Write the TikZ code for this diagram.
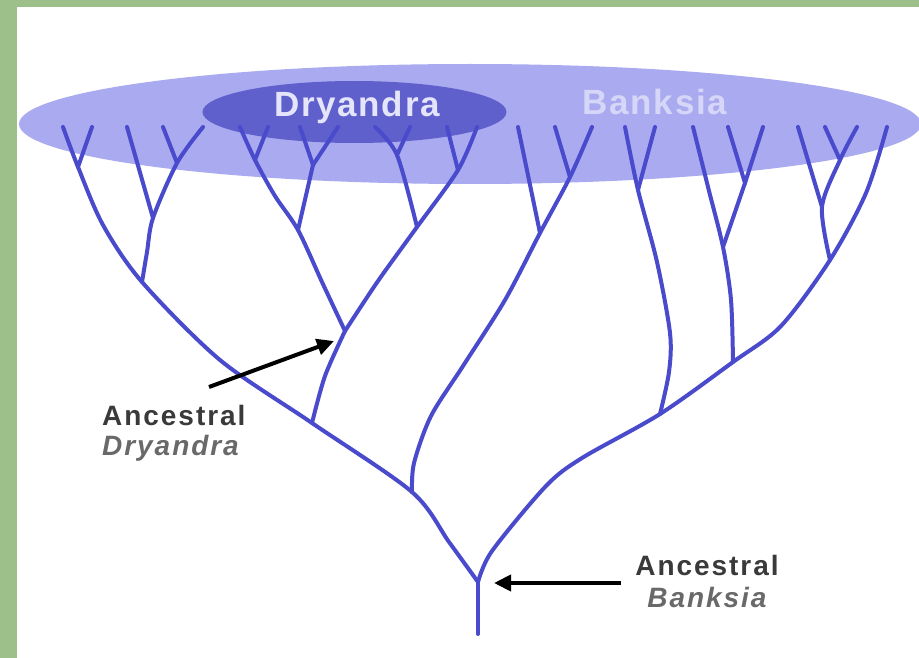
\documentclass[tikz,border=0pt]{standalone}
\usepackage{fontspec}
\setmainfont{Liberation Sans}
\newfontfamily\ttlfont{Liberation Sans}[LetterSpace=5]
\newfontfamily\lblfont{Liberation Sans}[LetterSpace=7]
\usetikzlibrary{arrows.meta}
\definecolor{bordergreen}{RGB}{157,192,138}
\definecolor{lightell}{RGB}{170,170,240}
\definecolor{darkell}{RGB}{96,96,204}
\definecolor{treeblue}{RGB}{74,74,204}
\definecolor{txtlight}{RGB}{228,228,250}
\definecolor{txtban}{RGB}{214,214,248}
\definecolor{txtdark}{RGB}{58,58,58}
\definecolor{txtgray}{RGB}{105,105,105}
\begin{document}
\begin{tikzpicture}[x=1pt,y=-1pt,
  tree/.style={draw=treeblue,line width=4pt,line cap=round,line join=round},
  pointer/.style={draw=black,line width=4pt,-{Triangle[length=17pt,width=16pt]}},
  ttl/.style={inner sep=0pt,anchor=base,font=\ttlfont\bfseries\fontsize{35}{40}\selectfont},
  lbl/.style={inner sep=0pt,font=\lblfont\bfseries\fontsize{28}{32}\selectfont,text=txtdark},
  lblit/.style={inner sep=0pt,font=\lblfont\bfseries\itshape\fontsize{28}{32}\selectfont,text=txtgray}]
\useasboundingbox (0,0) rectangle (919,658);
\fill[bordergreen] (0,0) rectangle (919,658);
\fill[white] (17,7) rectangle (919,658);
% ellipses
\fill[lightell] (470,124) ellipse [x radius=451pt, y radius=60pt];
\fill[darkell] (354.5,112) ellipse [x radius=152pt, y radius=31pt];
% coordinates: left part
\coordinate (base) at (478,634);
\coordinate (root) at (478,582);
\coordinate (lm1) at (449,542);
\coordinate (B2) at (412,492);
\coordinate (B1) at (312,423);
\coordinate (lm2) at (220,360);
\coordinate (A4) at (142,282);
\coordinate (lm3) at (103,225);
\coordinate (A1) at (78,167);
\coordinate (L1) at (63,127);
\coordinate (L2) at (92,127);
\coordinate (al1) at (147,252);
\coordinate (A3) at (153,218);
\coordinate (A2) at (177,163);
\coordinate (L3) at (127,127);
\coordinate (L4) at (163,127);
\coordinate (L5) at (203,127);
% Dryandra clade
\coordinate (dc1) at (325,376);
\coordinate (D0) at (345,331);
\coordinate (dp1) at (322,282);
\coordinate (P1) at (298,230);
\coordinate (dp2) at (275,196);
\coordinate (Pa) at (255,160);
\coordinate (Ld1) at (240,127);
\coordinate (Ld2) at (268,127);
\coordinate (Pb) at (313,165);
\coordinate (Ld3) at (300,127);
\coordinate (Ld4) at (338,127);
\coordinate (dq1) at (378,281);
\coordinate (Q1) at (417,227);
\coordinate (Qa) at (397,155);
\coordinate (Ld5) at (375,127);
\coordinate (Ld6) at (410,127);
\coordinate (Qb) at (458,170);
\coordinate (Ld7) at (447,127);
\coordinate (Ld8) at (477,127);
% middle clade
\coordinate (mb1) at (414,463);
\coordinate (mb2) at (431,416);
\coordinate (mb3) at (463,366);
\coordinate (mb4) at (505,300);
\coordinate (M1) at (540,233);
\coordinate (M2) at (570,177);
\coordinate (Lm1) at (518,127);
\coordinate (Lm2) at (555,127);
\coordinate (Lm3) at (592,127);
% right part
\coordinate (rm1) at (492,551);
\coordinate (rm2) at (546,486);
\coordinate (rm2b) at (582,458);
\coordinate (R1) at (660,414);
\coordinate (R2) at (733,362);
\coordinate (rm3) at (781,326);
\coordinate (R4) at (830,260);
\coordinate (rm4) at (866,193);
\coordinate (Lr7) at (887,127);
\coordinate (rn1) at (669,372);
\coordinate (rn2) at (670,333);
\coordinate (rn3) at (657,262);
\coordinate (N1) at (638,190);
\coordinate (Ln1) at (625,127);
\coordinate (Ln2) at (655,127);
\coordinate (rr1) at (731,300);
\coordinate (R3) at (723,247);
\coordinate (rr2) at (708,187);
\coordinate (Lr1) at (693,127);
\coordinate (R5) at (745,183);
\coordinate (Lr2) at (728,127);
\coordinate (Lr3) at (763,127);
\coordinate (R6) at (822,207);
\coordinate (Lr4) at (798,127);
\coordinate (R7) at (840,160);
\coordinate (Lr5) at (825,127);
\coordinate (Lr6) at (857,127);
% tree
\draw[tree] (base) -- (root);
\draw[tree] plot[smooth] coordinates {(root) (lm1) (B2) (B1) (lm2) (A4) (lm3) (A1) (L1)};
\draw[tree] (A1) -- (L2);
\draw[tree] plot[smooth] coordinates {(A4) (al1) (A3) (A2) (L5)};
\draw[tree] (A3) -- (L3);
\draw[tree] (A2) -- (L4);
\draw[tree] plot[smooth] coordinates {(B1) (dc1) (D0)};
\draw[tree] plot[smooth] coordinates {(D0) (dp1) (P1) (dp2) (Pa) (Ld1)};
\draw[tree] (Pa) -- (Ld2);
\draw[tree] (P1) -- (Pb);
\draw[tree] (Pb) -- (Ld3);
\draw[tree] (Pb) -- (Ld4);
\draw[tree] plot[smooth] coordinates {(D0) (dq1) (Q1) (Qb) (Ld8)};
\draw[tree] (Qb) -- (Ld7);
\draw[tree] plot[smooth] coordinates {(Q1) (Qa) (Ld5)};
\draw[tree] (Qa) -- (Ld6);
\draw[tree] plot[smooth] coordinates {(B2) (mb1) (mb2) (mb3) (mb4) (M1) (M2) (Lm3)};
\draw[tree] (M1) -- (Lm1);
\draw[tree] (M2) -- (Lm2);
\draw[tree] plot[smooth] coordinates {(root) (rm1) (rm2) (rm2b) (R1) (R2) (rm3) (R4) (rm4) (Lr7)};
\draw[tree] plot[smooth] coordinates {(R1) (rn1) (rn2) (rn3) (N1) (Ln1)};
\draw[tree] (N1) -- (Ln2);
\draw[tree] plot[smooth] coordinates {(R2) (rr1) (R3) (rr2) (Lr1)};
\draw[tree] (R3) -- (R5);
\draw[tree] (R5) -- (Lr2);
\draw[tree] (R5) -- (Lr3);
\draw[tree] plot[smooth] coordinates {(R4) (R6) (R7) (Lr6)};
\draw[tree] (R6) -- (Lr4);
\draw[tree] (R7) -- (Lr5);
% titles
\node[ttl,text=txtlight] (ttlD) at (357,117) {Dryandra};
\node[ttl,text=txtban] (ttlB) at (655,115) {Banksia};
% labels
\node[lbl,anchor=base west] (ancD1) at (102,425) {Ancestral};
\node[lblit,anchor=base west] (ancD2) at (102,455) {Dryandra};
\node[lbl,anchor=base] (ancB1) at (707,575) {Ancestral};
\node[lblit,anchor=base] (ancB2) at (707,607) {Banksia};
% arrows
\coordinate (aDs) at (209,387);
\coordinate (aDe) at (334,341);
\coordinate (aBs) at (621,583);
\coordinate (aBe) at (494,583);
\draw[pointer] (aDs) -- (aDe);
\draw[pointer] (aBs) -- (aBe);
\end{tikzpicture}
\end{document}
